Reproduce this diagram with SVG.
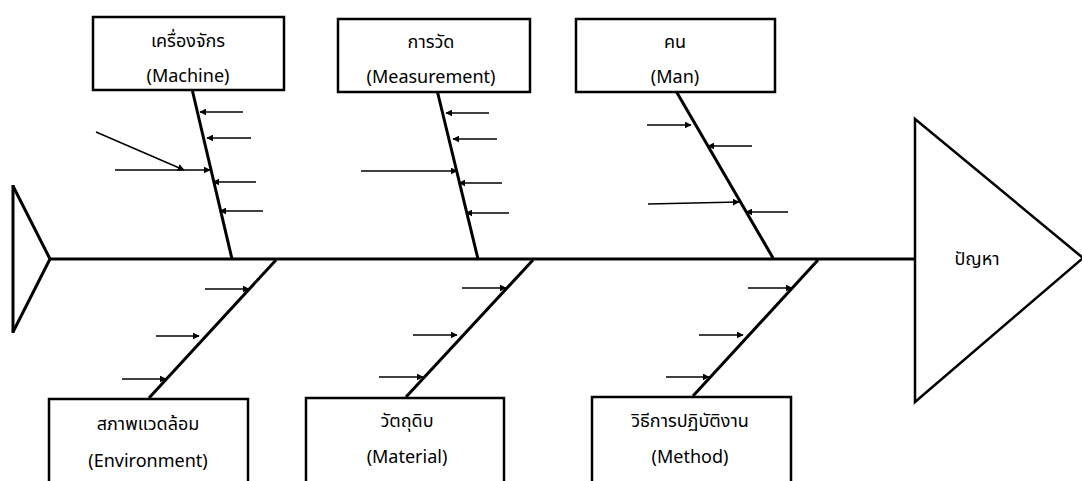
<svg xmlns="http://www.w3.org/2000/svg" width="1082" height="481" viewBox="0 0 1082 481">
<defs>
<marker id="ah" viewBox="0 0 10 10" refX="9" refY="5" markerWidth="7" markerHeight="7" markerUnits="userSpaceOnUse" orient="auto">
<path d="M0,0 L10,5 L0,10 z" fill="#000"/>
</marker>
<style>
.box{fill:#fff;stroke:#000;stroke-width:2.5}
.bone{stroke:#000;stroke-width:3;fill:none}
.arr{stroke:#000;stroke-width:1.5;fill:none;marker-end:url(#ah)}
.t{font-family:"Noto Sans Thai","Noto Sans","DejaVu Sans",sans-serif;font-size:18px;fill:#000;text-anchor:middle}
</style>
</defs>
<rect width="1082" height="481" fill="#fff"/>
<g id="connectors">
<polyline class="bone" points="13,186 50,259 13,332"/>
<line class="bone" x1="13" y1="185" x2="13" y2="333"/>
<line class="bone" x1="50" y1="259" x2="915" y2="259"/>
<line class="bone" x1="192" y1="89" x2="232" y2="259"/>
<line class="bone" x1="437" y1="90" x2="478" y2="259"/>
<line class="bone" x1="676" y1="91" x2="773" y2="258"/>
<line class="bone" x1="276" y1="260" x2="149" y2="398"/>
<line class="bone" x1="533" y1="260" x2="406" y2="397"/>
<line class="bone" x1="818" y1="260" x2="693" y2="396"/>
<line class="arr" x1="243" y1="112" x2="200" y2="112"/>
<line class="arr" x1="251" y1="138" x2="207" y2="138"/>
<line class="arr" x1="256" y1="182" x2="213" y2="182"/>
<line class="arr" x1="263" y1="211" x2="220" y2="211"/>
<line class="arr" x1="115" y1="170" x2="210" y2="170"/>
<line class="arr" x1="96" y1="132" x2="184" y2="170"/>
<line class="arr" x1="489" y1="113" x2="446" y2="113"/>
<line class="arr" x1="497" y1="139" x2="453" y2="139"/>
<line class="arr" x1="502" y1="183" x2="459" y2="183"/>
<line class="arr" x1="509" y1="213" x2="466" y2="213"/>
<line class="arr" x1="361" y1="171" x2="457" y2="171"/>
<line class="arr" x1="647" y1="125" x2="691" y2="125"/>
<line class="arr" x1="752" y1="146" x2="708" y2="146"/>
<line class="arr" x1="648" y1="204" x2="739" y2="202"/>
<line class="arr" x1="788" y1="212" x2="746" y2="212"/>
<line class="arr" x1="205" y1="289" x2="249" y2="289"/>
<line class="arr" x1="156" y1="336" x2="199" y2="336"/>
<line class="arr" x1="122" y1="379" x2="166" y2="379"/>
<line class="arr" x1="462" y1="288" x2="506" y2="288"/>
<line class="arr" x1="413" y1="335" x2="457" y2="335"/>
<line class="arr" x1="379" y1="377" x2="423" y2="377"/>
<line class="arr" x1="748" y1="288" x2="792" y2="288"/>
<line class="arr" x1="699" y1="335" x2="743" y2="335"/>
<line class="arr" x1="666" y1="377" x2="709" y2="377"/>
</g>
<g id="node-machine">
<rect class="box" x="93" y="17" width="191" height="73"/>
<text class="t" x="188" y="47">เครื่องจักร</text>
<text class="t" x="188" y="82">(Machine)</text>
</g>
<g id="node-measurement">
<rect class="box" x="338" y="19" width="192" height="73"/>
<text class="t" x="431" y="48">การวัด</text>
<text class="t" x="431" y="83">(Measurement)</text>
</g>
<g id="node-man">
<rect class="box" x="576" y="19" width="199" height="73"/>
<text class="t" x="675" y="48">คน</text>
<text class="t" x="675" y="83">(Man)</text>
</g>
<g id="node-environment">
<rect class="box" x="49" y="399" width="199" height="95"/>
<text class="t" x="148" y="430">สภาพแวดล้อม</text>
<text class="t" x="148" y="467">(Environment)</text>
</g>
<g id="node-material">
<rect class="box" x="306" y="398" width="198" height="95"/>
<text class="t" x="407" y="427">วัตถุดิบ</text>
<text class="t" x="407" y="463">(Material)</text>
</g>
<g id="node-method">
<rect class="box" x="592" y="397" width="199" height="96"/>
<text class="t" x="690" y="427">วิธีการปฏิบัติงาน</text>
<text class="t" x="690" y="463">(Method)</text>
</g>
<g id="node-problem">
<polygon class="box" points="915,119 1083,258 915,402"/>
<text class="t" x="977" y="265">ปัญหา</text>
</g>
</svg>
